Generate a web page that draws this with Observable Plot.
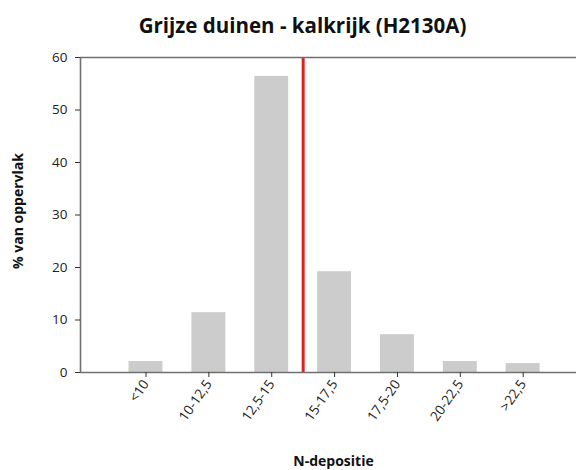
<!DOCTYPE html>
<html>
<head>
<meta charset="utf-8">
<script src="https://cdn.jsdelivr.net/npm/d3@7"></script>
<script src="https://cdn.jsdelivr.net/npm/@observablehq/plot@0.6"></script>
<style>
  html, body { margin: 0; padding: 0; background: #fff; }
  #chart svg { display: block; font-family: "Open Sans", sans-serif; }
  #chart svg text { font-family: "Open Sans", sans-serif !important; }
  #chart svg g[aria-label="y-axis tick label"] text,
  #chart svg g[aria-label="x-axis tick label"] text { font-size: 13.5px !important; fill: #222; }
  #chart svg text[aria-label="chart title"] { font-size: 20.5px !important; font-weight: bold; }
  #chart svg text[aria-label="axis title"] { font-size: 14px !important; font-weight: bold; }
</style>
</head>
<body>
<div id="chart"></div>
<script>
const title = "Grijze duinen - kalkrijk (H2130A)";
const xLabel = "N-depositie";
const yLabel = "% van oppervlak";
const categories = ["<10", "10-12,5", "12,5-15", "15-17,5", "17,5-20", "20-22,5", ">22,5"];
const values = [2.1, 11.4, 56.4, 19.2, 7.2, 2.1, 1.7];
const yTicks = [0, 10, 20, 30, 40, 50, 60];
const criticalPosition = 2.5; // boundary between 12,5-15 and 15-17,5

const data = categories.map((c, i) => ({i, category: c, value: values[i]}));
const half = 0.27;
const xDomain = [-1.042, 6.848];

const chart = Plot.plot({
  width: 576,
  height: 470,
  marginTop: 57,
  marginLeft: 80,
  marginRight: 0,
  marginBottom: 98,
  x: {domain: xDomain, axis: null},
  y: {domain: [0, 60], axis: null},
  marks: [
    Plot.rectY(data, {x1: d => d.i - half, x2: d => d.i + half, y1: 0, y2: "value", fill: "#cccccc"}),
    Plot.ruleX([criticalPosition], {y1: 0, y2: 60, stroke: "#e02020", strokeWidth: 3}),
    Plot.ruleY([0, 60], {stroke: "#707070", strokeWidth: 1.6}),
    Plot.ruleX([xDomain[0]], {y1: 0, y2: 60, stroke: "#707070", strokeWidth: 1.6}),
    Plot.axisY({ticks: yTicks, tickSize: 5, tickPadding: 8, label: null, stroke: "#333"}),
    Plot.axisX({ticks: d3.range(categories.length), tickFormat: i => categories[i], tickSize: 5, tickPadding: 4, tickRotate: -55, label: null, stroke: "#333"}),
    Plot.text([title], {text: d => d, ariaLabel: () => "chart title", frameAnchor: "top", dx: -26, dy: -31, lineAnchor: "middle", fill: "#111"}),
    Plot.text([yLabel], {text: d => d, ariaLabel: () => "axis title", frameAnchor: "left", textAnchor: "middle", dx: -62, dy: -4, rotate: -90, fill: "#111"}),
    Plot.text([xLabel], {text: d => d, ariaLabel: () => "axis title", frameAnchor: "bottom", dx: 5, dy: 89, lineAnchor: "middle", fill: "#111"})
  ]
});
document.getElementById("chart").appendChild(chart);
</script>
</body>
</html>
